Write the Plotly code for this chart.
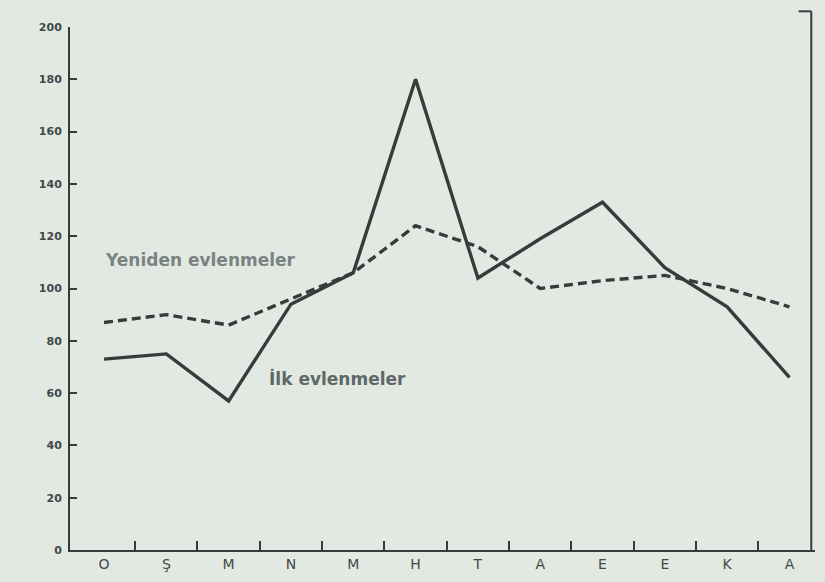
import plotly.graph_objects as go

months = ["O", "Ş", "M", "N", "M", "H", "T", "A", "E", "E", "K", "A"]
ilk = [73, 75, 57, 94, 106, 180, 104, 119, 133, 108, 93, 66]
yeniden = [87, 90, 86, 96, 106, 124, 116, 100, 103, 105, 100, 93]
y_ticks = [0, 20, 40, 60, 80, 100, 120, 140, 160, 180, 200]

xs = list(range(len(months)))
between = [i + 0.5 for i in xs[:-1]]
line_col = "#363c3b"
text_col = "#414847"
bg = "#e2e9e3"

fig = go.Figure()
fig.add_trace(go.Scatter(x=xs, y=yeniden, mode="lines",
                         line=dict(color=line_col, width=3.4, dash="9px,5px"),
                         showlegend=False, hoverinfo="skip"))
fig.add_trace(go.Scatter(x=xs, y=ilk, mode="lines",
                         line=dict(color=line_col, width=3.4),
                         showlegend=False, hoverinfo="skip"))

fig.add_annotation(x=1.55, y=111, text="<b>Yeniden evlenmeler</b>", showarrow=False,
                   font=dict(size=17, color="#7a8382", family="DejaVu Sans"))
fig.add_annotation(x=3.75, y=65.5, text="<b>İlk evlenmeler</b>", showarrow=False,
                   font=dict(size=17, color="#5f6867", family="DejaVu Sans"))

# right-hand frame line with short top return
fig.add_shape(type="line", xref="paper", yref="paper", x0=0.995, x1=0.995, y0=0, y1=1.03,
              line=dict(color=line_col, width=2))
fig.add_shape(type="line", xref="paper", yref="paper", x0=0.978, x1=0.995, y0=1.03, y1=1.03,
              line=dict(color=line_col, width=2))

fig.update_layout(
    width=825, height=582,
    margin=dict(l=70, r=10, t=27, b=32),
    paper_bgcolor=bg, plot_bgcolor=bg,
    font=dict(family="DejaVu Sans", color=text_col),
    xaxis=dict(range=[-0.546, 11.41], tickmode="array", tickvals=xs, ticktext=months,
               showgrid=False, zeroline=False, showline=True, linecolor=line_col,
               linewidth=2, ticks="", tickfont=dict(size=14, color=text_col),
               minor=dict(tickmode="array", tickvals=between, ticks="inside", ticklen=9,
                          tickwidth=1.5, tickcolor=line_col, showgrid=False)),
    yaxis=dict(range=[0, 200], tickmode="array", tickvals=y_ticks,
               ticktext=["<b>%d</b>" % v for v in y_ticks],
               showgrid=False, zeroline=False, showline=True, linecolor=line_col,
               linewidth=2, ticks="inside", ticklen=7, tickwidth=1.5,
               tickcolor=line_col, tickfont=dict(size=11, color=text_col),
               ticklabelstandoff=4),
)

fig.write_html(
    "out.html",
    config={"displayModeBar": False},
    post_script="document.body.style.margin='0';document.body.style.overflow='hidden';"
                "document.body.style.background='%s';" % bg,
)
